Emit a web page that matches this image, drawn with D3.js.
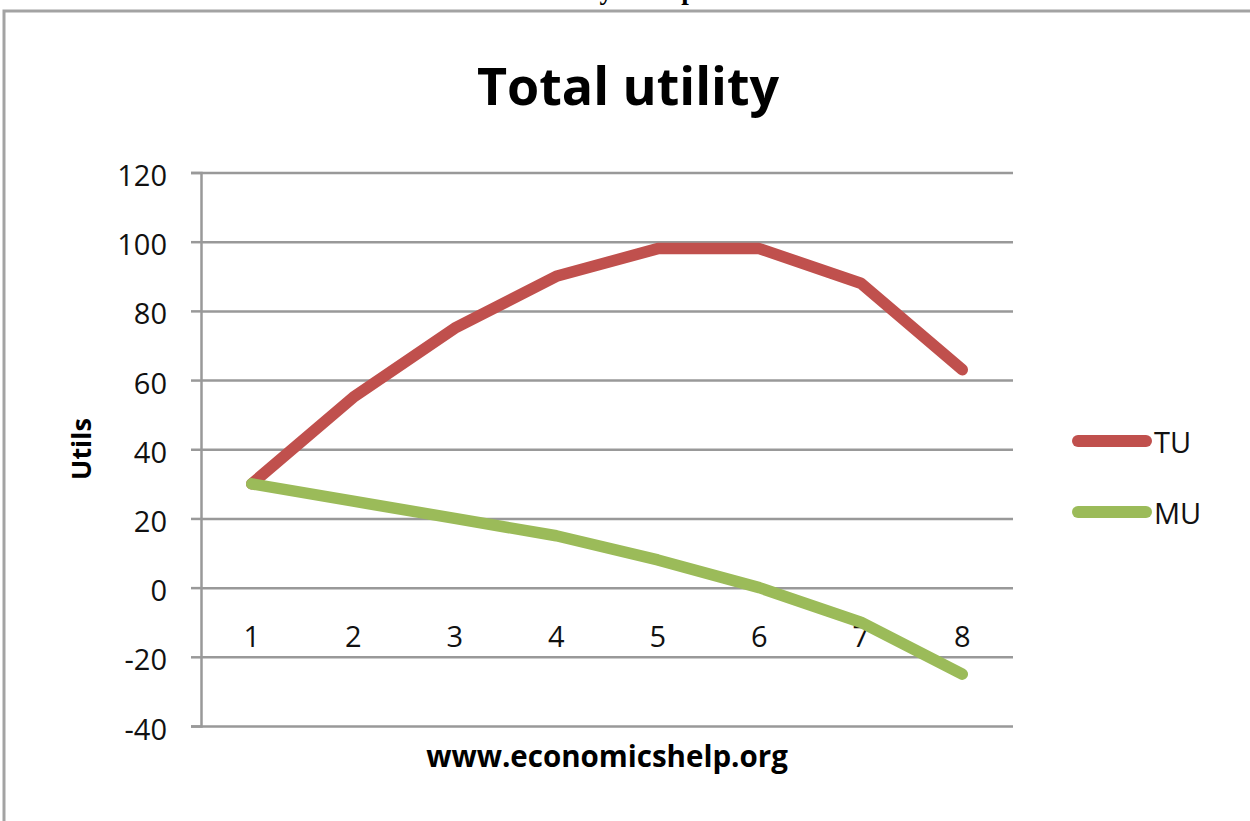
<!DOCTYPE html>
<html>
<head>
<meta charset="utf-8">
<script src="https://cdn.jsdelivr.net/npm/d3@7"></script>
<style>
  body { margin: 0; background: #fff; }
  svg { display: block; }
</style>
</head>
<body>
<script>
'use strict';

// chart data
const units = ['1', '2', '3', '4', '5', '6', '7', '8'];
const totalUtility = [30, 55, 75, 90, 98, 98, 88, 63];
const marginalUtility = [30, 25, 20, 15, 8, 0, -10, -25];
const yTicks = [-40, -20, 0, 20, 40, 60, 80, 100, 120];
const seriesNames = ['TU', 'MU'];
const seriesColors = ['#c0504d', '#9bbb59'];

(function() {
  const width = 1250, height = 821;
  const plot = { left: 201, right: 1013, top: 172.5, bottom: 726 };

  let svg = d3.select('body')
    .append('svg')
    .attr('width', width)
    .attr('height', height);

  // cut-off page heading above the frame (only descenders show)
  svg.append('text')
    .attr('x', 597)
    .attr('y', -1)
    .attr('text-anchor', 'middle')
    .style('font-family', '"Liberation Serif", serif')
    .style('font-weight', 'bold')
    .style('font-size', '27px')
    .text('Total utility example');

  // frame round the chart
  svg.append('path')
    .attr('d', 'M4,' + height + ' L4,11 L' + width + ',11')
    .attr('fill', 'none')
    .attr('stroke', '#a3a3a3')
    .attr('stroke-width', 3);

  // scales
  let xScale = d3.scaleBand()
    .domain(units)
    .range([plot.left, plot.right]);
  let yScale = d3.scaleLinear()
    .domain([d3.min(yTicks), d3.max(yTicks)])
    .range([plot.bottom, plot.top]);
  let xMid = (d) => xScale(d) + xScale.bandwidth() / 2;

  // gridlines + y axis with ticks pointing left
  let yAxis = d3.axisLeft(yScale)
    .tickValues(yTicks)
    .tickSize(10)
    .tickPadding(24)
    .tickFormat((d) => String(d)); // plain hyphen like excel
  let gy = svg.append('g')
    .attr('transform', 'translate(' + plot.left + ',0)')
    .call(yAxis);
  gy.select('.domain').attr('stroke', '#999').attr('stroke-width', 2.5);
  gy.selectAll('.tick line').attr('stroke', '#999').attr('stroke-width', 2.5);
  gy.selectAll('.tick').append('line')
    .attr('x1', 0)
    .attr('x2', plot.right - plot.left)
    .attr('stroke', '#999')
    .attr('stroke-width', 2.5);
  gy.selectAll('.tick text')
    .attr('dy', '0.45em')
    .style('font-family', '"Open Sans", sans-serif')
    .style('font-size', '29px')
    .attr('fill', '#111');

  // category labels sit under the zero line
  let xAxis = d3.axisBottom(xScale)
    .tickSize(0)
    .tickPadding(0);
  let gx = svg.append('g')
    .attr('transform', 'translate(0,' + yScale(0) + ')')
    .call(xAxis);
  gx.select('.domain').remove();
  gx.selectAll('.tick text')
    .attr('y', 59)
    .attr('dy', 0)
    .style('font-family', '"Open Sans", sans-serif')
    .style('font-size', '29px')
    .attr('fill', '#111');

  // the two lines
  let line = d3.line()
    .x((d, i) => xMid(units[i]))
    .y((d) => yScale(d));

  [totalUtility, marginalUtility].forEach((values, k) => {
    svg.append('path')
      .datum(values)
      .attr('fill', 'none')
      .attr('stroke', seriesColors[k])
      .attr('stroke-width', 11.5)
      .attr('stroke-linejoin', 'round')
      .attr('stroke-linecap', 'round')
      .attr('d', line);
  });

  // titles
  svg.append('text')
    .attr('x', 628)
    .attr('y', 105)
    .attr('text-anchor', 'middle')
    .style('font-family', '"Open Sans", sans-serif')
    .style('font-weight', 'bold')
    .style('font-size', '52px')
    .text('Total utility');

  svg.append('text')
    .attr('transform', 'translate(91, 449)rotate(-90)')
    .attr('text-anchor', 'middle')
    .style('font-family', '"Open Sans", sans-serif')
    .style('font-weight', 'bold')
    .style('font-size', '27px')
    .text('Utils');

  svg.append('text')
    .attr('x', 607)
    .attr('y', 767)
    .attr('text-anchor', 'middle')
    .style('font-family', '"Open Sans", sans-serif')
    .style('font-weight', 'bold')
    .style('font-size', '29.5px')
    .text('www.economicshelp.org');

  // legend
  let legend = svg.append('g');
  seriesNames.forEach((name, k) => {
    let ly = 441 + k * 71;
    legend.append('line')
      .attr('x1', 1078)
      .attr('x2', 1146)
      .attr('y1', ly)
      .attr('y2', ly)
      .attr('stroke', seriesColors[k])
      .attr('stroke-width', 12)
      .attr('stroke-linecap', 'round');
    legend.append('text')
      .attr('x', 1154)
      .attr('y', ly + 12)
      .style('font-family', '"Open Sans", sans-serif')
      .style('font-size', '29px')
      .attr('fill', '#111')
      .text(name);
  });
})();
</script>
</body>
</html>
